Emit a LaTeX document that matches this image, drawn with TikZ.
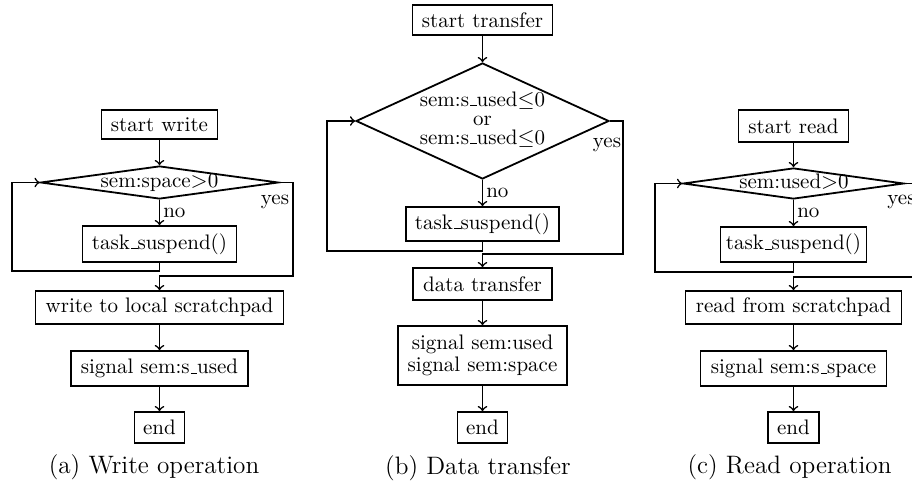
\documentclass[tikz,border=0pt]{standalone}
\usetikzlibrary{shapes.geometric}
\newcommand\us{\leavevmode\kern.06em\vbox{\hrule width.3em}}
\begin{document}
\begin{tikzpicture}[x=0.5pt,y=-0.5pt,
  box/.style={draw, line width=0.9pt, inner sep=0pt, align=center, font=\fontsize{10.5}{11}\selectfont},
  dia/.style={draw, diamond, line width=0.9pt, inner sep=0pt},
  arr/.style={->, line width=0.8pt},
  lbl/.style={inner sep=0pt, font=\fontsize{10.5}{12}\selectfont},
  capt/.style={inner sep=0pt, font=\fontsize{12.6}{15}\selectfont}]
\useasboundingbox (0,0) rectangle (912,487);
\clip (0,0) rectangle (912,487);

% ---------------- (a) Write operation ----------------
\node[box, minimum width=58pt, minimum height=14.5pt] (sw) at (159.5,124.5) {start write};
\node[dia, minimum width=119pt, minimum height=16.5pt] (d1) at (159.5,182.5) {};
\node[lbl, anchor=base] (d1t) at (159.5,187) {sem:space$>$0};
\node[box, minimum width=77pt, minimum height=18pt] (ts1) at (159.5,244) {task\us suspend()};
\node[box, minimum width=124pt, minimum height=16.5pt] (w1) at (159.5,307.5) {write to local scratchpad};
\node[box, minimum width=88.5pt, minimum height=17.5pt] (s1) at (159.5,368.5) {signal sem:s\us used};
\node[box, minimum width=25pt, minimum height=15.5pt] (e1) at (159.5,427.5) {end};
\node[capt] (ca) at (154,467) {(a) Write operation};
\coordinate (l1) at (12,271);
\coordinate (y1) at (293,276);
\draw[arr] (sw) -- (d1);
\draw[arr] (d1) -- node[lbl, anchor=west, xshift=1.5pt] (no1) {no} (ts1);
\draw[arr] (ts1.south) |- (l1) |- (d1.west);
\draw[arr] (d1.east) -| (y1) -| (w1.north);
\node[lbl, anchor=base] (yes1) at (275,204) {yes};
\draw[arr] (w1) -- (s1);
\draw[arr] (s1) -- (e1);

% ---------------- (b) Data transfer ----------------
\node[box, minimum width=70pt, minimum height=15pt] (st) at (482.5,20) {start transfer};
\node[dia, minimum width=126.5pt, minimum height=58pt] (d2) at (482.5,121) {};
\node[lbl, align=center, font=\fontsize{10.5}{9.5}\selectfont] (d2t) at (482.5,119.5)
  {sem:s\us used$\leq$0\\or\\sem:s\us used$\leq$0};
\node[box, minimum width=76.5pt, minimum height=17pt] (ts2) at (482.5,224) {task\us suspend()};
\node[box, minimum width=69.5pt, minimum height=16pt] (dt) at (482.5,284) {data transfer};
\node[box, minimum width=84.5pt, minimum height=29.5pt] (sg) at (482.5,355.5) {signal sem:used\\signal sem:space};
\node[box, minimum width=25pt, minimum height=15.5pt] (e2) at (482.5,427.5) {end};
\node[capt] (cb) at (478,468) {(b) Data transfer};
\coordinate (l2) at (327,251);
\coordinate (y2) at (623,254);
\draw[arr] (st) -- (d2);
\draw[arr] (d2) -- node[lbl, anchor=west, xshift=1.5pt] (no2) {no} (ts2);
\draw[arr] (ts2.south) |- (l2) |- (d2.west);
\draw[arr] (d2.east) -| (y2) -| (dt.north);
\node[lbl, anchor=base] (yes2) at (607,148) {yes};
\draw[arr] (dt) -- (sg);
\draw[arr] (sg) -- (e2);

% ---------------- (c) Read operation ----------------
\node[box, minimum width=55pt, minimum height=16pt] (sr) at (793.5,126) {start read};
\node[dia, minimum width=110.5pt, minimum height=15.5pt] (d3) at (793.5,183.5) {};
\node[lbl, anchor=base] (d3t) at (794,188.3) {sem:used$>$0};
\node[box, minimum width=73pt, minimum height=17.5pt] (ts3) at (793.5,244.5) {task\us suspend()};
\node[box, minimum width=108pt, minimum height=16.5pt] (rs) at (793.5,307.5) {read from scratchpad};
\node[box, minimum width=93pt, minimum height=17.5pt] (ss) at (793.5,368.5) {signal sem:s\us space};
\node[box, minimum width=25.5pt, minimum height=15.5pt] (e3) at (793.5,427.5) {end};
\node[capt] (cc) at (789.5,467) {(c) Read operation};
\coordinate (l3) at (655,272);
\coordinate (y3) at (925,277);
\draw[arr] (sr) -- (d3);
\draw[arr] (d3) -- node[lbl, anchor=west, xshift=1.5pt] (no3) {no} (ts3);
\draw[arr] (ts3.south) |- (l3) |- (d3.west);
\draw[arr] (d3.east) -| (y3) -| (rs.north);
\node[lbl, anchor=base] (yes3) at (901.5,204) {yes};
\draw[arr] (rs) -- (ss);
\draw[arr] (ss) -- (e3);
\end{tikzpicture}
\end{document}
